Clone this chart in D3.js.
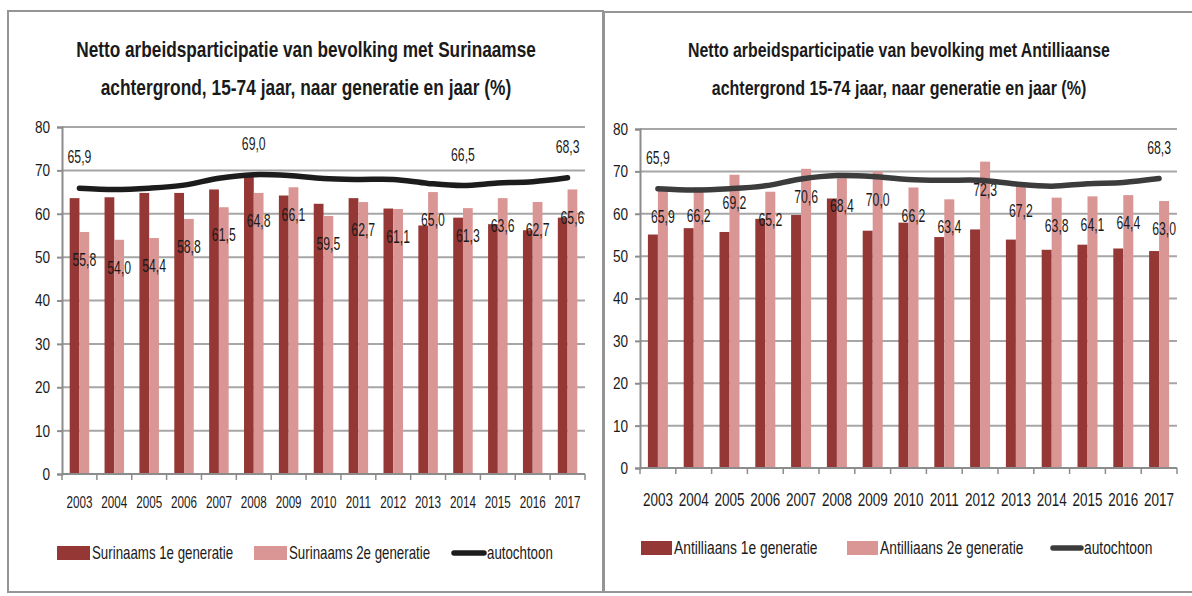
<!DOCTYPE html>
<html>
<head>
<meta charset="utf-8">
<script src="https://cdn.jsdelivr.net/npm/d3@7"></script>
<style>
  body { margin: 0; background: #fff; }
  svg text { font-family: "Liberation Sans", Arial, sans-serif; fill: #1a1a1a; }
</style>
</head>
<body>
<div id="chart"></div>
<script>
// Chart data
const years = ["2003", "2004", "2005", "2006", "2007", "2008", "2009", "2010", "2011", "2012", "2013", "2014", "2015", "2016", "2017"];
const surinaams1 = [63.6, 63.8, 64.8, 64.8, 65.6, 68.6, 64.2, 62.3, 63.6, 61.2, 57.3, 59.1, 57.6, 56.2, 59.1];
const surinaams2 = [55.8, 54.0, 54.4, 58.8, 61.5, 64.8, 66.1, 59.5, 62.7, 61.1, 65.0, 61.3, 63.6, 62.7, 65.6];
const antilliaans1 = [55.1, 56.6, 55.7, 58.8, 59.7, 63.6, 56.0, 57.9, 54.5, 56.3, 53.9, 51.5, 52.7, 51.8, 51.2];
const antilliaans2 = [65.9, 66.2, 69.2, 65.2, 70.6, 68.4, 70.0, 66.2, 63.4, 72.3, 67.2, 63.8, 64.1, 64.4, 63.0];
const autochtoon = [65.9, 65.6, 65.9, 66.6, 68.2, 69.0, 68.8, 68.1, 67.9, 67.9, 67.0, 66.5, 67.1, 67.4, 68.3];
const yTicks = [0, 10, 20, 30, 40, 50, 60, 70, 80];

const darkRed = "#953735";
const lightRed = "#d99694";

const width = 1192, height = 596;
const svg = d3.select("#chart").append("svg")
    .attr("width", width)
    .attr("height", height);

const fmt = v => v.toFixed(1).replace(".", ",");

// the reference uses a narrow font, so squeeze the text horizontally
function squeeze(sel, sx) {
    sel.each(function() {
        const t = d3.select(this);
        const x = +t.attr("x") || 0, y = +t.attr("y") || 0;
        t.attr("x", 0).attr("y", 0)
            .attr("transform", `translate(${x},${y}) scale(${sx},1)`);
    });
}

function drawPanel(cfg) {
    const g = svg.append("g");

    // frame
    g.append("rect")
        .attr("x", cfg.frame[0]).attr("y", cfg.frame[1])
        .attr("width", cfg.frame[2]).attr("height", cfg.frame[3])
        .attr("fill", "none").attr("stroke", "#959595").attr("stroke-width", 2);

    // title, squeezed to the width it has in the reference
    cfg.title.forEach((t, i) => {
        const tt = g.append("text")
            .attr("x", cfg.titleX)
            .attr("y", 57 + i * 38)
            .attr("text-anchor", "middle")
            .attr("font-weight", "bold")
            .attr("font-size", cfg.titleSize)
            .text(t);
        const len = tt.node().getComputedTextLength();
        tt.call(squeeze, cfg.titleLen[i] / len);
    });

    const x = d3.scaleBand().domain(years).range([cfg.x0, cfg.x1]);
    const y = d3.scaleLinear().domain([0, 80]).range([cfg.y0, cfg.y80]);
    const x1 = d3.scaleBand().domain(["a", "b"]).range([0, cfg.barPair]);
    const off = (x.bandwidth() - cfg.barPair) / 2;

    // gridlines
    g.append("g").selectAll("line").data(yTicks.filter(d => d > 0)).join("line")
        .attr("x1", cfg.x0).attr("x2", cfg.x1)
        .attr("y1", d => y(d)).attr("y2", d => y(d))
        .attr("stroke", "#a6a6a6").attr("stroke-width", 2);

    // y axis
    const yAxis = g.append("g")
        .attr("transform", `translate(${cfg.x0},0)`)
        .call(d3.axisLeft(y).tickValues(yTicks).tickSize(5).tickPadding(7));
    yAxis.select(".domain").attr("stroke", "#8c8c8c").attr("stroke-width", 2);
    yAxis.selectAll(".tick line").attr("stroke", "#8c8c8c").attr("stroke-width", 2);
    yAxis.selectAll("text").attr("font-size", 17).attr("font-family", null).attr("fill", "#1a1a1a")
        .call(squeeze, 0.8);

    // bars
    const bars = g.append("g");
    bars.selectAll(".b1").data(years).join("rect")
        .attr("x", d => x(d) + off + x1("a"))
        .attr("width", x1.bandwidth())
        .attr("y", (d, i) => y(cfg.s1[i]))
        .attr("height", (d, i) => y(0) - y(cfg.s1[i]))
        .attr("fill", darkRed);
    bars.selectAll(".b2").data(years).join("rect")
        .attr("x", d => x(d) + off + x1("b"))
        .attr("width", x1.bandwidth())
        .attr("y", (d, i) => y(cfg.s2[i]))
        .attr("height", (d, i) => y(0) - y(cfg.s2[i]))
        .attr("fill", lightRed);

    // x axis
    const xAxisG = g.append("g").attr("transform", `translate(0,${cfg.y0})`);
    xAxisG.append("line")
        .attr("x1", cfg.x0).attr("x2", cfg.x1)
        .attr("stroke", "#8c8c8c").attr("stroke-width", 2);
    xAxisG.selectAll(".tk").data(years.concat(["end"])).join("line")
        .attr("x1", d => d === "end" ? cfg.x1 : x(d))
        .attr("x2", d => d === "end" ? cfg.x1 : x(d))
        .attr("y1", 0).attr("y2", 6)
        .attr("stroke", "#8c8c8c").attr("stroke-width", 1.5);
    xAxisG.selectAll("text").data(years).join("text")
        .attr("x", d => x(d) + x.bandwidth() / 2)
        .attr("y", cfg.yearY - cfg.y0)
        .attr("text-anchor", "middle")
        .attr("dy", "0.35em")
        .attr("font-size", cfg.yearSize)
        .text(d => d)
        .call(squeeze, cfg.yearSx);

    // labels of 2e generatie
    g.append("g").selectAll("text").data(years).join("text")
        .attr("x", d => x(d) + off + x1("b") + x1.bandwidth() / 2)
        .attr("y", (d, i) => y(cfg.s2[i]) + 28)
        .attr("dy", "0.35em")
        .attr("text-anchor", "middle")
        .attr("font-size", 17.5)
        .text((d, i) => fmt(cfg.s2[i]))
        .call(squeeze, 0.7);

    // autochtoon line
    const line = d3.line()
        .x((d, i) => x(years[i]) + x.bandwidth() / 2)
        .y(d => y(d))
        .curve(d3.curveCatmullRom.alpha(0.5));
    g.append("path")
        .datum(autochtoon)
        .attr("d", line)
        .attr("fill", "none")
        .attr("stroke", cfg.lineColor)
        .attr("stroke-width", 5.5)
        .attr("stroke-linecap", "round");

    g.append("g").selectAll("text").data(cfg.lineLabels).join("text")
        .attr("x", i => x(years[i]) + x.bandwidth() / 2)
        .attr("y", i => y(autochtoon[i]) - 31)
        .attr("dy", "0.35em")
        .attr("text-anchor", "middle")
        .attr("font-size", 17.5)
        .text(i => fmt(autochtoon[i]))
        .call(squeeze, 0.7);

    // legend
    const lg = g.append("g").attr("transform", `translate(0,${cfg.legendY})`);
    cfg.legend.forEach(item => {
        if (item.type === "rect") {
            lg.append("rect")
                .attr("x", item.x).attr("y", -7)
                .attr("width", cfg.swatchW).attr("height", 14)
                .attr("fill", item.color);
        } else {
            lg.append("line")
                .attr("x1", item.x + 2).attr("x2", item.x + cfg.swatchW - 1)
                .attr("y1", 0).attr("y2", 0)
                .attr("stroke", item.color).attr("stroke-width", 5.5)
                .attr("stroke-linecap", "round");
        }
        lg.append("text")
            .attr("x", item.x + cfg.swatchW + 2)
            .attr("dy", "0.35em")
            .attr("font-size", 17.5)
            .text(item.label)
            .call(squeeze, cfg.legendSx);
    });
}

drawPanel({
    frame: [8, 11, 595, 581],
    title: ["Netto arbeidsparticipatie van bevolking met Surinaamse",
            "achtergrond, 15-74 jaar, naar generatie en jaar (%)"],
    titleX: 306,
    titleSize: 22,
    titleLen: [460, 411],
    x0: 62, x1: 585, y0: 474, y80: 127,
    barPair: 19.5,
    yearY: 502,
    yearSize: 16,
    yearSx: 0.73,
    s1: surinaams1, s2: surinaams2,
    lineColor: "#1c1c1c",
    lineLabels: [0, 5, 11, 14],
    legendY: 553,
    swatchW: 33,
    legendSx: 0.76,
    legend: [
        { type: "rect", x: 57, color: darkRed, label: "Surinaams 1e generatie" },
        { type: "rect", x: 254, color: lightRed, label: "Surinaams 2e generatie" },
        { type: "line", x: 452, color: "#1c1c1c", label: "autochtoon" }
    ]
});

drawPanel({
    frame: [604, 12, 600, 580],
    title: ["Netto arbeidsparticipatie van bevolking met Antilliaanse",
            "achtergrond 15-74 jaar, naar generatie en jaar (%)"],
    titleX: 899,
    titleSize: 21,
    titleLen: [422, 375],
    x0: 640, x1: 1177, y0: 468, y80: 129,
    barPair: 20,
    yearY: 500,
    yearSize: 17.5,
    yearSx: 0.77,
    s1: antilliaans1, s2: antilliaans2,
    lineColor: "#3c3c3c",
    lineLabels: [0, 14],
    legendY: 548,
    swatchW: 31,
    legendSx: 0.79,
    legend: [
        { type: "rect", x: 641, color: darkRed, label: "Antilliaans 1e generatie" },
        { type: "rect", x: 847, color: lightRed, label: "Antilliaans 2e generatie" },
        { type: "line", x: 1051, color: "#3c3c3c", label: "autochtoon" }
    ]
});
</script>
</body>
</html>
